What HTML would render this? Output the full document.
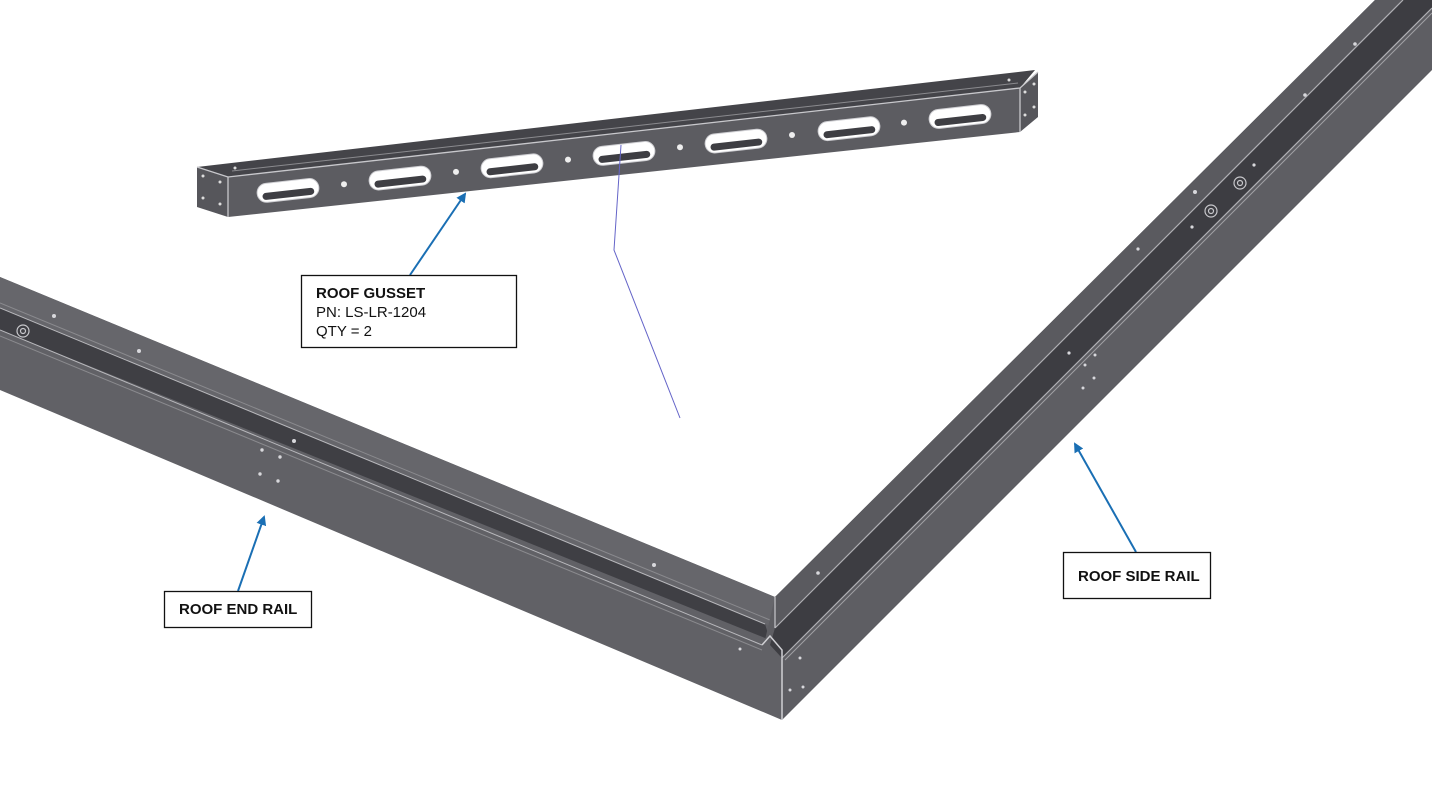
<!DOCTYPE html>
<html><head><meta charset="utf-8"><style>
html,body{margin:0;padding:0;background:#fff;width:1432px;height:801px;overflow:hidden}
svg{display:block}
text{font-family:"Liberation Sans",Arial,sans-serif;font-size:15px;fill:#111}
.b{font-weight:bold}
</style></head><body>
<svg width="1432" height="801" viewBox="0 0 1432 801">
<defs>
<marker id="ah" markerWidth="10" markerHeight="10" refX="8" refY="5" orient="auto" markerUnits="userSpaceOnUse">
<path d="M0,0 L10,5 L0,10 z" fill="#1a6fb4"/></marker>
<g id="slot"><rect x="-31" y="-9.5" width="62" height="19" rx="9.5" fill="#fff" stroke="#cfcfd3" stroke-width="1"/><rect x="-26" y="0" width="52" height="7" rx="3.5" fill="#3e3e43"/></g>
</defs>
<!-- END RAIL -->
<polygon points="0,277 775,597 775,632 782,650 782,720 0,390" fill="#616166"/>
<polygon points="0,277 775,597 775,628 0,308" fill="#66666b"/>
<polygon points="0,308 765,624 770,640 0,330" fill="#3f3f44"/>
<line x1="0" y1="308" x2="765" y2="624" stroke="#b8b8bc" stroke-width="1"/>
<line x1="0" y1="303" x2="770" y2="620" stroke="#8a8a8e" stroke-width="1"/>
<line x1="0" y1="330" x2="762" y2="645" stroke="#b8b8bc" stroke-width="1"/>
<line x1="0" y1="336" x2="762" y2="650" stroke="#8a8a8e" stroke-width="1"/>
<!-- SIDE RAIL -->
<polygon points="775,597 1375,0 1432,0 1432,70 782,720 782,650 765,640" fill="#5e5e63"/>
<polygon points="775,597 1375,0 1403,0 775,628" fill="#5a5a5f"/>
<polygon points="775,628 1403,0 1432,0 1432,8 782,658 770,645" fill="#3d3d42"/>
<line x1="775" y1="628" x2="1403" y2="0" stroke="#b0b0b4" stroke-width="1.2"/>
<line x1="782" y1="658" x2="1432" y2="8" stroke="#b0b0b4" stroke-width="1.2"/>
<line x1="785" y1="660" x2="1432" y2="13" stroke="#a0a0a4" stroke-width="1"/>
<line x1="775" y1="597" x2="775" y2="628" stroke="#c8c8cc" stroke-width="1.2"/>
<polyline points="762,645 770,636 782,650 782,720" fill="none" stroke="#d0d0d4" stroke-width="1.5"/>
<!-- dots -->
<g fill="#d8d8dc">
<circle cx="54" cy="316" r="2"/><circle cx="139" cy="351" r="2"/><circle cx="294" cy="441" r="2"/>
<circle cx="262" cy="450" r="1.7"/><circle cx="280" cy="457" r="1.7"/><circle cx="260" cy="474" r="1.7"/><circle cx="278" cy="481" r="1.7"/>
<circle cx="654" cy="565" r="2"/><circle cx="740" cy="649" r="1.5"/><circle cx="800" cy="658" r="1.5"/><circle cx="790" cy="690" r="1.5"/><circle cx="803" cy="687" r="1.5"/>
<circle cx="1195" cy="192" r="2"/><circle cx="1138" cy="249" r="1.6"/><circle cx="1254" cy="165" r="1.6"/><circle cx="1192" cy="227" r="1.6"/>
<circle cx="1069" cy="353" r="1.6"/><circle cx="1085" cy="365" r="1.5"/><circle cx="1095" cy="355" r="1.5"/><circle cx="1083" cy="388" r="1.5"/><circle cx="1094" cy="378" r="1.5"/>
<circle cx="1305" cy="95" r="1.8"/><circle cx="1355" cy="44" r="1.8"/><circle cx="818" cy="573" r="1.8"/>
</g>
<g fill="none" stroke="#c8c8cc" stroke-width="1.2">
<circle cx="23" cy="331" r="6"/><circle cx="23" cy="331" r="2.5"/>
<circle cx="1211" cy="211" r="6"/><circle cx="1211" cy="211" r="2.5"/>
<circle cx="1240" cy="183" r="6"/><circle cx="1240" cy="183" r="2.5"/>
</g>
<!-- GUSSET -->
<polygon points="197,167 1035,70 1020,88 228,177" fill="#444449"/>
<polygon points="197,167 228,177 228,217 197,207" fill="#56565b"/>
<polygon points="1020,88 1038,72 1038,117 1020,132" fill="#56565b"/>
<polygon points="228,177 1020,88 1020,132 228,217" fill="#5c5c61"/>
<polyline points="197,167 228,177 1020,88 1038,72" fill="none" stroke="#c8c8cc" stroke-width="1.3"/>
<line x1="228" y1="177" x2="228" y2="217" stroke="#c8c8cc" stroke-width="1.3"/>
<line x1="1020" y1="88" x2="1020" y2="132" stroke="#c8c8cc" stroke-width="1.3"/>
<line x1="232" y1="171" x2="1018" y2="83" stroke="#8a8a8e" stroke-width="1"/>
<use href="#slot" transform="translate(288,190.4) rotate(-6.4)"/>
<use href="#slot" transform="translate(400,178.1) rotate(-6.4)"/>
<use href="#slot" transform="translate(512,165.8) rotate(-6.4)"/>
<use href="#slot" transform="translate(624,153.4) rotate(-6.4)"/>
<use href="#slot" transform="translate(736,141.1) rotate(-6.4)"/>
<use href="#slot" transform="translate(849,128.7) rotate(-6.4)"/>
<use href="#slot" transform="translate(960,116.5) rotate(-6.4)"/>
<g fill="#eee">
<circle cx="344" cy="184.2" r="3"/><circle cx="456" cy="171.9" r="3"/><circle cx="568" cy="159.6" r="3"/>
<circle cx="680" cy="147.3" r="3"/><circle cx="792" cy="135" r="3"/><circle cx="904" cy="122.6" r="3"/>
</g>
<g fill="#ddd"><circle cx="203" cy="176" r="1.5"/><circle cx="220" cy="182" r="1.5"/><circle cx="203" cy="198" r="1.5"/><circle cx="220" cy="204" r="1.5"/>
<circle cx="1025" cy="92" r="1.5"/><circle cx="1034" cy="84" r="1.5"/><circle cx="1025" cy="115" r="1.5"/><circle cx="1034" cy="107" r="1.5"/>
<circle cx="235" cy="168" r="1.5"/><circle cx="1009" cy="80" r="1.5"/></g>
<!-- purple line -->
<polyline points="621,145 614,250 680,418" fill="none" stroke="#6464c8" stroke-width="1"/>
<!-- arrows -->
<g stroke="#1a6fb4" stroke-width="2" fill="none">
<line x1="410" y1="275" x2="465" y2="194" marker-end="url(#ah)"/>
<line x1="238" y1="591" x2="264" y2="517" marker-end="url(#ah)"/>
<line x1="1136" y1="552" x2="1075" y2="444" marker-end="url(#ah)"/>
</g>
<!-- labels -->
<g fill="#fff" stroke="#111" stroke-width="1.3">
<rect x="301.5" y="275.5" width="215" height="72"/>
<rect x="164.5" y="591.5" width="147" height="36"/>
<rect x="1063.5" y="552.5" width="147" height="46"/>
</g>
<text x="316" y="298" class="b">ROOF GUSSET</text>
<text x="316" y="317">PN: LS-LR-1204</text>
<text x="316" y="336">QTY = 2</text>
<text x="179" y="614" class="b">ROOF END RAIL</text>
<text x="1078" y="581" class="b">ROOF SIDE RAIL</text>
</svg>
</body></html>
